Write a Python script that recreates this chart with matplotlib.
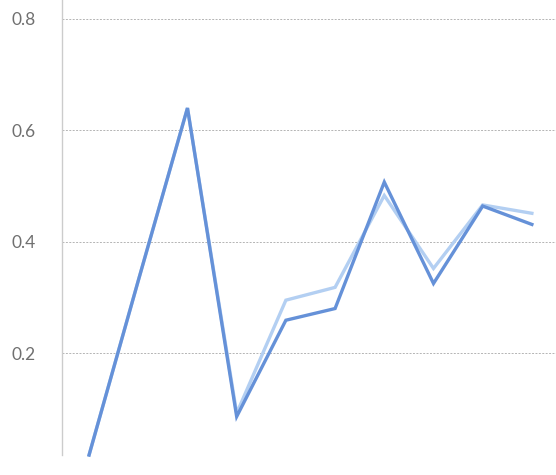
import numpy as np
import matplotlib
matplotlib.use("Agg")
import matplotlib.pyplot as plt

plt.rcParams['font.family'] = ['Lato', 'DejaVu Sans']

# values, one per category
categories = list(range(10))
series_dark = [0.017, 0.33, 0.64, 0.086, 0.259, 0.280, 0.507, 0.325, 0.464, 0.431]
series_light = [0.017, 0.33, 0.64, 0.092, 0.295, 0.318, 0.483, 0.352, 0.466, 0.451]
yticks = [0.2, 0.4, 0.6, 0.8]

fig = plt.figure(figsize=(5.56, 4.75), dpi=100)
ax = fig.add_axes([62 / 556, 20 / 475, 1 - 62 / 556, 1 - 20 / 475])

ax.plot(categories, series_light, color="#b3cff2", linewidth=2.4, solid_joinstyle="miter", clip_on=False)
ax.plot(categories, series_dark, color="#6591d8", linewidth=2.4, solid_joinstyle="miter", clip_on=False)

ax.set_xlim(-0.55, 9.49)
ax.set_ylim(0.017, 0.834)
ax.set_yticks(yticks)
ax.set_yticklabels([f"{v:.1f}" for v in yticks])
ax.set_xticks([])
ax.tick_params(axis="y", length=0, pad=19, labelsize=12.5, labelcolor="#707070")
ax.grid(axis="y", color="#b4b4b4", linestyle=(0, (2, 1.5)), linewidth=0.7)
ax.set_axisbelow(True)

for side in ["top", "right", "bottom"]:
    ax.spines[side].set_visible(False)
ax.spines["left"].set_color("#cccccc")
ax.spines["left"].set_linewidth(1.0)

plt.savefig("out.png", dpi=100)
plt.close()
